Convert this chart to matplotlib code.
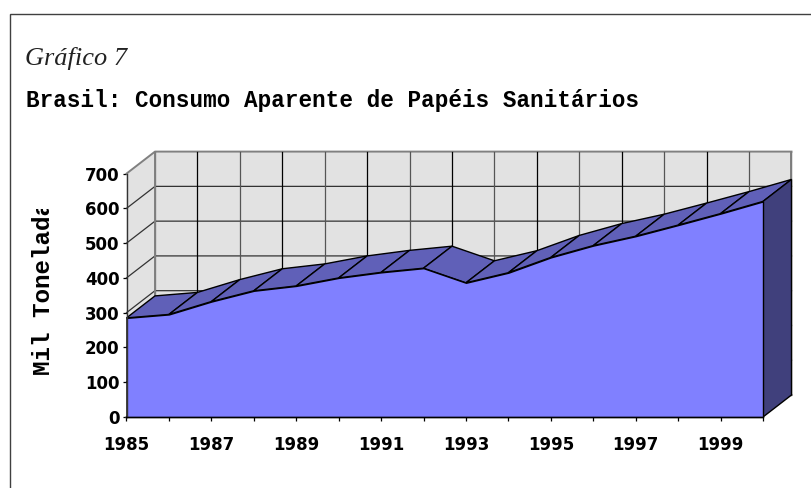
#!/usr/bin/env python3
"""Brasil: consumo aparente de papeis sanitarios, pseudo-3D area chart."""

import matplotlib
matplotlib.use('Agg')
import matplotlib.pyplot as plt
from matplotlib.patches import Rectangle

years = [1985, 1986, 1987, 1988, 1989, 1990, 1991, 1992,
         1993, 1994, 1995, 1996, 1997, 1998, 1999, 2000]
consumo = [285, 295, 332, 363, 377, 400, 416, 428,
           386, 415, 459, 493, 520, 552, 585, 620]
y_ticks = [0, 100, 200, 300, 400, 500, 600, 700]
x_labels = ['1985', '', '1987', '', '1989', '', '1991', '', '1993', '',
            '1995', '', '1997', '', '1999', '']

W, H = 811, 488
fig = plt.figure(figsize=(W / 100, H / 100), dpi=100)

# front plane of the 3D box, in pixels
left, right, bottom, top = 126.5, 763.0, 417.0, 173.6
ax = fig.add_axes([left / W, 1 - bottom / H, (right - left) / W, (bottom - top) / H])
ax.set_xlim(years[0], years[-1])
ax.set_ylim(0, 700)
ax.patch.set_visible(False)

# depth of the box in data units
dx = 28.5 / ((right - left) / (years[-1] - years[0]))
dy = 22.0 / ((bottom - top) / 700)
x0, x1 = years[0], years[-1]

wall = '#e2e2e2'
grey = '#808080'

# back wall and side wall
ax.fill([x0 + dx, x1 + dx, x1 + dx, x0 + dx], [dy, dy, 700 + dy, 700 + dy],
        color=wall, lw=0, clip_on=False, zorder=1)
ax.fill([x0, x0 + dx, x0 + dx, x0], [0, dy, 700 + dy, 700],
        color=wall, lw=0, clip_on=False, zorder=1)

# gridlines
for v in y_ticks:
    edge = grey if v in (0, 700) else '#333333'
    lw = 1.4 if v in (0, 700) else 0.9
    ax.plot([x0, x0 + dx, x1 + dx], [v, v + dy, v + dy], color=edge, lw=lw,
            clip_on=False, zorder=2)
for i, yr in enumerate(years):
    col = '#000000' if i % 2 == 1 else '#555555'
    ax.plot([yr + dx, yr + dx], [dy, 700 + dy], color=col, lw=0.9,
            clip_on=False, zorder=2)
ax.plot([x0 + dx, x0 + dx], [dy, 700 + dy], color=grey, lw=1.4, clip_on=False, zorder=2)
ax.plot([x1 + dx, x1 + dx], [dy, 700 + dy], color=grey, lw=1.4, clip_on=False, zorder=2)

# top faces of the area
for i in range(len(years) - 1):
    xa, xb = years[i], years[i + 1]
    ya, yb = consumo[i], consumo[i + 1]
    ax.fill([xa, xb, xb + dx, xa + dx], [ya, yb, yb + dy, ya + dy],
            facecolor='#6060b8', edgecolor='black', lw=1.0, clip_on=False, zorder=3)

# right side face
ax.fill([x1, x1 + dx, x1 + dx, x1], [0, dy, consumo[-1] + dy, consumo[-1]],
        facecolor='#40407c', edgecolor='black', lw=1.0, clip_on=False, zorder=3)

# front face
ax.fill_between(years, 0, consumo, facecolor='#8080ff', edgecolor='black', lw=1.0,
                clip_on=False, zorder=4)

# axes
for side in ('top', 'right'):
    ax.spines[side].set_visible(False)
ax.spines['left'].set_linewidth(1.0)
ax.spines['bottom'].set_linewidth(1.0)
ax.spines['left'].set_color('#333333')
ax.spines['left'].set_zorder(5)
ax.spines['bottom'].set_zorder(5)
ax.set_xticks(years)
ax.set_xticklabels(x_labels, fontsize=12, fontweight='bold')
ax.set_yticks(y_ticks)
ax.set_yticklabels([str(v) for v in y_ticks], fontsize=12, fontweight='bold')
ax.tick_params(axis='both', length=3, width=0.9, pad=2)
ax.tick_params(axis='x', pad=11)

# outer frame
fig.add_artist(Rectangle((9.5 / W, -0.01), (W + 10) / W, 1 - 14 / H + 0.01, transform=fig.transFigure,
                         fill=False, edgecolor='#404040', lw=1.0))

fig.text(25 / W, 1 - 65 / H, 'Gráfico 7', family='Liberation Serif', style='italic',
         fontsize=19, va='baseline', color='#222222')
fig.text(26 / W, 1 - 107 / H, 'Brasil: Consumo Aparente de Papéis Sanitários',
         family='Liberation Mono', fontweight='bold', fontsize=16.25, va='baseline')

# y title, cut off at the top as in the source
ylab = fig.text(49.5 / W, 1 - 375 / H, 'Mil Toneladas', family='Liberation Mono', fontweight='bold',
                fontsize=17.5, rotation=90, ha='left', va='baseline', rotation_mode='anchor')
ylab.set_clip_path(Rectangle((0, H - 376), W, 376 - 209, transform=None))

fig.savefig('out.png', dpi=100)
plt.close()
